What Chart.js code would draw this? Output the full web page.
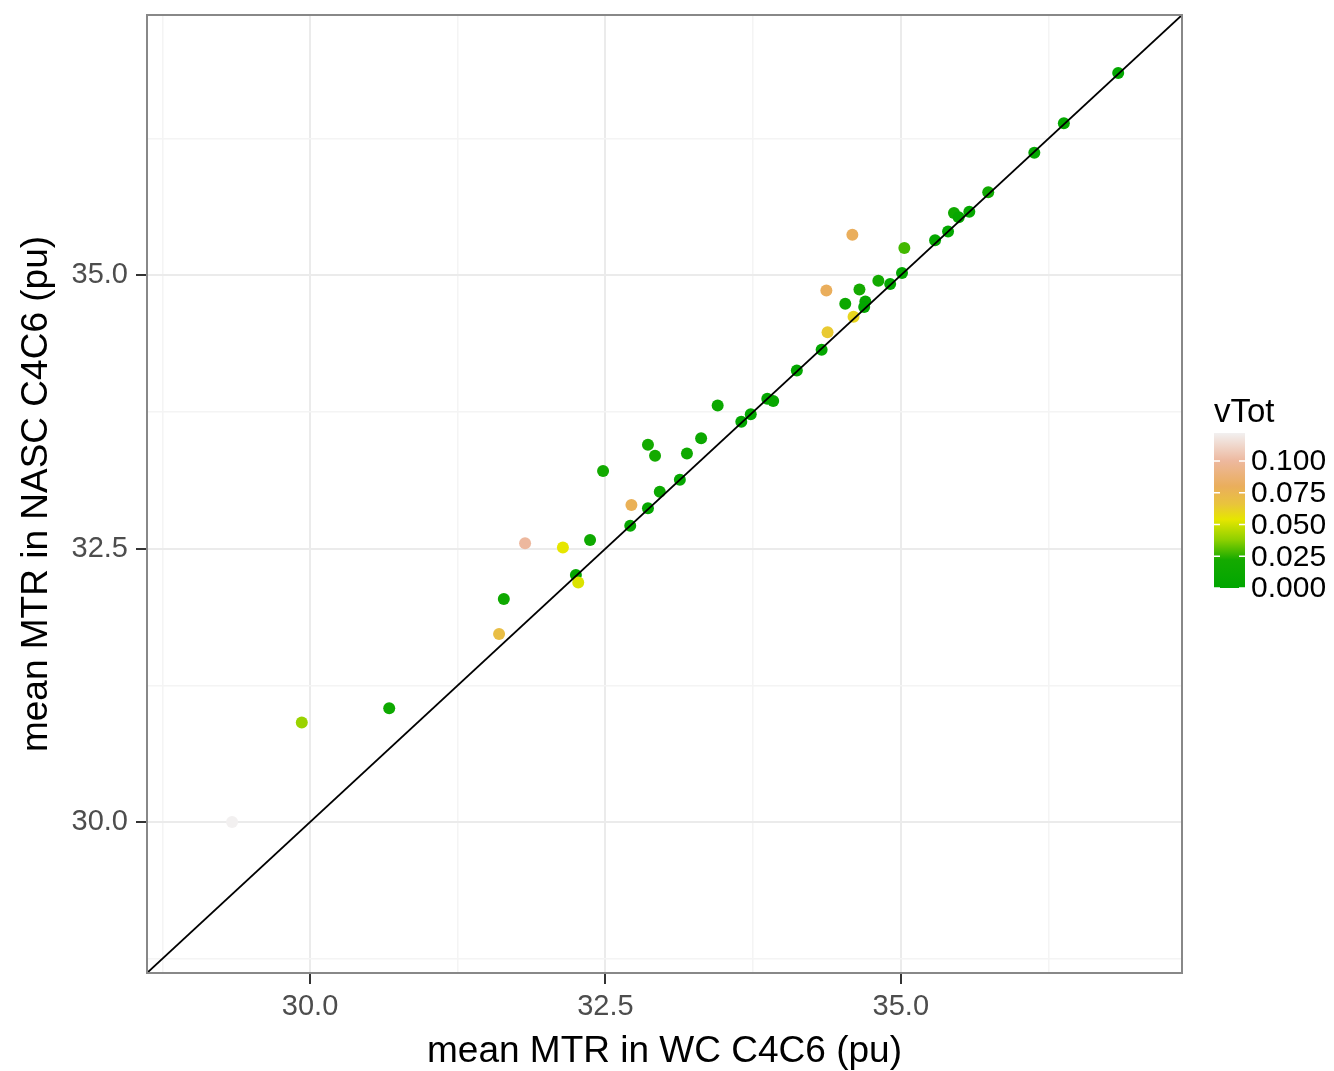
<!DOCTYPE html>
<html>
<head>
<meta charset="utf-8">
<script src="https://cdn.jsdelivr.net/npm/chart.js@4.4.1/dist/chart.umd.min.js"></script>
<style>
  body { margin: 0; background: #fff; }
</style>
</head>
<body>
<canvas id="chart1" width="1334" height="1071"></canvas>
<script>
'use strict'

// mean MTR in WC C4C6 (x), mean MTR in NASC C4C6 (y), vTot (colour)
const wcMtr = [29.34, 29.93, 30.67, 31.60, 31.64, 31.82, 32.14, 32.25, 32.27, 32.37,
  32.48, 32.72, 32.71, 32.86, 32.86, 32.92, 32.96, 33.13, 33.19, 33.31,
  33.45, 33.65, 33.73, 33.87, 33.92, 34.12, 34.33, 34.38, 34.37, 34.53,
  34.59, 34.60, 34.65, 34.70, 34.69, 34.81, 34.91, 35.01, 35.03, 35.29,
  35.40, 35.45, 35.49, 35.58, 35.74, 36.13, 36.38, 36.84];
const nascMtr = [30.00, 30.91, 31.04, 31.72, 32.04, 32.55, 32.51, 32.26, 32.19, 32.58,
  33.21, 32.90, 32.71, 33.45, 32.87, 33.35, 33.02, 33.13, 33.37, 33.51,
  33.81, 33.66, 33.73, 33.87, 33.85, 34.13, 34.32, 34.48, 34.86, 34.74,
  35.37, 34.62, 34.87, 34.76, 34.71, 34.95, 34.92, 35.02, 35.25, 35.32,
  35.40, 35.57, 35.53, 35.58, 35.76, 36.12, 36.39, 36.85];
const vTot = [0.122, 0.040, 0.015, 0.070, 0.015, 0.100, 0.054, 0.005, 0.052, 0.015,
  0.020, 0.078, 0.005, 0.022, 0.005, 0.022, 0.012, 0.005, 0.015, 0.012,
  0.012, 0.003, 0.003, 0.003, 0.008, 0.003, 0.003, 0.064, 0.080, 0.012,
  0.080, 0.060, 0.022, 0.008, 0.003, 0.020, 0.003, 0.003, 0.028, 0.005,
  0.003, 0.018, 0.008, 0.005, 0.018, 0.003, 0.003, 0.003];

const majorTicks = [30, 32.5, 35];
const minorTicks = [28.75, 31.25, 33.75, 36.25];
const axisMin = 28.62;
const axisMax = 37.38;
const legendTicks = [0, 0.025, 0.05, 0.075, 0.1];
const legendMax = 0.122;

const colourStops = [
  [0, '#00a600'], [0.022, '#14aa00'], [0.038, '#8fd000'], [0.054, '#e6e600'],
  [0.066, '#e9c43c'], [0.08, '#eaae5c'], [0.1, '#edb89e'], [0.122, '#f2f0f0']
];

const FONT = '"Liberation Sans", Arial, sans-serif';

function hexRgb(h) {
  return [parseInt(h.slice(1, 3), 16), parseInt(h.slice(3, 5), 16), parseInt(h.slice(5, 7), 16)];
}

function vColour(v) {
  for (let i = 1; i < colourStops.length; i++) {
    const [v0, c0] = colourStops[i - 1];
    const [v1, c1] = colourStops[i];
    if (v <= v1 || i === colourStops.length - 1) {
      const t = Math.max(0, Math.min(1, (v - v0) / (v1 - v0)));
      const a = hexRgb(c0), b = hexRgb(c1);
      const c = a.map((x, k) => Math.round(x + (b[k] - x) * t));
      return 'rgb(' + c.join(',') + ')';
    }
  }
}

const allTicks = minorTicks.concat(majorTicks).sort((a, b) => a - b);
const isMajor = v => majorTicks.some(m => Math.abs(m - v) < 1e-6);

function axisOptions(titleText, isX) {
  return {
    type: 'linear',
    min: axisMin,
    max: axisMax,
    afterBuildTicks: s => { s.ticks = allTicks.map(v => ({ value: v })); },
    afterFit: s => {
      if (isX) {
        s.height = 98;
        s.paddingLeft = 0; s.paddingRight = 0;
      } else {
        s.width = 147;
        s.paddingTop = 0; s.paddingBottom = 0;
      }
    },
    border: { display: false },
    grid: {
      color: c => isMajor(c.tick.value) ? '#ebebeb' : '#f4f4f4',
      lineWidth: c => isMajor(c.tick.value) ? 2 : 1.5,
      tickColor: c => isMajor(c.tick.value) ? '#333333' : 'rgba(0,0,0,0)',
      tickLength: 11,
      tickWidth: 2
    },
    ticks: {
      autoSkip: false,
      maxRotation: 0,
      padding: isX ? 6 : 8,
      color: '#4d4d4d',
      font: { family: FONT, size: 29 },
      callback: v => isMajor(v) ? v.toFixed(1) : ''
    },
    title: {
      display: true,
      text: titleText,
      color: '#000',
      font: { family: FONT, size: 37, lineHeight: isX ? 1.05 : 1.2 },
      padding: isX ? { top: 0, bottom: 0 } : { top: 15, bottom: 0 }
    }
  };
}

const panelBorder = {
  id: 'panelBorder',
  afterDraw(chart) {
    const a = chart.chartArea;
    const c = chart.ctx;
    c.save();
    c.strokeStyle = '#888888';
    c.lineWidth = 2;
    c.strokeRect(a.left, a.top, a.right - a.left, a.bottom - a.top);
    c.restore();
  }
};

const colourBar = {
  id: 'colourBar',
  afterDraw(chart) {
    const c = chart.ctx;
    const barX = 1214, barW = 31, barTop = 433, barBottom = 588;
    const toY = v => barBottom - v / legendMax * (barBottom - barTop);
    c.save();
    const grad = c.createLinearGradient(0, barBottom, 0, barTop);
    colourStops.forEach(([v, col]) => grad.addColorStop(Math.min(1, v / legendMax), col));
    c.fillStyle = grad;
    c.fillRect(barX, barTop, barW, barBottom - barTop);
    c.strokeStyle = '#ffffff';
    c.lineWidth = 1.5;
    c.fillStyle = '#000';
    c.font = '30px ' + FONT;
    c.textBaseline = 'middle';
    c.textAlign = 'left';
    legendTicks.forEach(v => {
      const y = toY(v);
      c.beginPath();
      c.moveTo(barX, y); c.lineTo(barX + 6, y);
      c.moveTo(barX + barW - 6, y); c.lineTo(barX + barW, y);
      c.stroke();
      c.fillText(v.toFixed(3), 1251, y + 1);
    });
    c.font = '33px ' + FONT;
    c.textBaseline = 'alphabetic';
    c.fillText('vTot', 1214, 422);
    c.restore();
  }
};

const ctx = document.getElementById('chart1').getContext('2d');
const myChart = new Chart(ctx, {
  type: 'scatter',
  data: {
    datasets: [{
      data: [{ x: axisMin, y: axisMin }, { x: axisMax, y: axisMax }],
      showLine: true,
      borderColor: '#000000',
      borderWidth: 1.8,
      pointRadius: 0,
      order: 0
    }, {
      data: wcMtr.map((x, i) => ({ x: x, y: nascMtr[i] })),
      pointBackgroundColor: vTot.map(vColour),
      pointBorderColor: vTot.map(vColour),
      pointBorderWidth: 0,
      pointRadius: 6,
      order: 1
    }]
  },
  options: {
    responsive: false,
    animation: false,
    layout: { padding: { left: 0, top: 15, right: 152, bottom: 0 } },
    plugins: { legend: { display: false }, tooltip: { enabled: false } },
    scales: {
      x: axisOptions('mean MTR in WC C4C6 (pu)', true),
      y: axisOptions('mean MTR in NASC C4C6 (pu)', false)
    }
  },
  plugins: [panelBorder, colourBar]
});
</script>
</body>
</html>
